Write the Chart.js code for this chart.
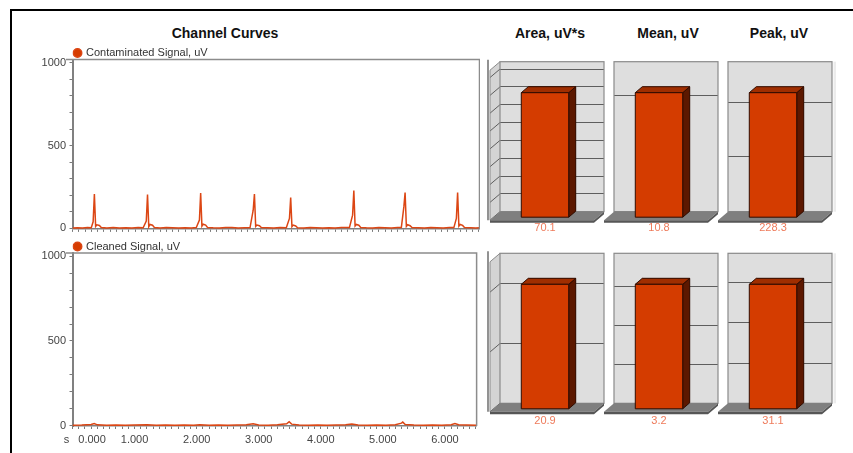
<!DOCTYPE html>
<html>
<head>
<meta charset="utf-8">
<script src="https://cdn.jsdelivr.net/npm/chart.js@4.4.1/dist/chart.umd.min.js"></script>
<style>
  body { margin: 0; background: #fff; width: 853px; height: 453px; overflow: hidden; position: relative; font-family: "Liberation Sans", Arial, sans-serif; }
  .frame { position: absolute; left: 10px; top: 9px; width: 900px; height: 500px; border-top: 2px solid #000; border-left: 2px solid #000; }
  canvas { position: absolute; }
  .title { position: absolute; top: 25px; line-height: 16px; font-size: 14px; font-weight: bold; color: #111; transform: translateX(-50%); white-space: nowrap; }
</style>
</head>
<body>
<div class="frame"></div>
<div class="title" style="left:225px">Channel Curves</div>
<div class="title" id="t0" style="left:550px"></div>
<div class="title" id="t1" style="left:668px"></div>
<div class="title" id="t2" style="left:779px"></div>

<canvas id="contam" width="470" height="195" style="left:10px; top:44px"></canvas>
<canvas id="clean" width="470" height="214" style="left:10px; top:238px"></canvas>

<canvas id="bar0" width="122" height="180" style="left:486px; top:56px"></canvas>
<canvas id="bar1" width="122" height="180" style="left:600px; top:56px"></canvas>
<canvas id="bar2" width="122" height="180" style="left:714px; top:56px"></canvas>
<canvas id="bar3" width="122" height="180" style="left:486px; top:248px"></canvas>
<canvas id="bar4" width="122" height="180" style="left:600px; top:248px"></canvas>
<canvas id="bar5" width="122" height="180" style="left:714px; top:248px"></canvas>

<script>
// time (s) and amplitude (uV)
const contamTime = [
  0.00, 0.08, 0.16, 0.24, 0.30, 0.33, 0.35, 0.37, 0.39, 0.43, 0.46, 0.55, 0.65, 0.75, 0.85, 0.95,
  1.05, 1.13, 1.18, 1.20, 1.22, 1.24, 1.28, 1.31, 1.40, 1.50, 1.60, 1.70, 1.80, 1.90, 1.98,
  2.03, 2.05, 2.07, 2.09, 2.13, 2.16, 2.25, 2.35, 2.45, 2.55, 2.65, 2.75, 2.84,
  2.89, 2.91, 2.93, 2.95, 2.99, 3.02, 3.12, 3.22, 3.32, 3.42,
  3.47, 3.49, 3.51, 3.53, 3.57, 3.60, 3.70, 3.80, 3.90, 4.00, 4.10, 4.20, 4.30, 4.43,
  4.48, 4.50, 4.52, 4.54, 4.58, 4.61, 4.70, 4.80, 4.90, 5.00, 5.10, 5.20, 5.26,
  5.30, 5.32, 5.34, 5.36, 5.40, 5.43, 5.53, 5.63, 5.73, 5.83, 5.93, 6.03, 6.10,
  6.14, 6.16, 6.18, 6.20, 6.24, 6.27, 6.37, 6.45, 6.51
];
const contamValues = [
  3, 4, 2, 5, 4, 40, 207, 12, 22, 18, 5, 3, 5, 2, 4, 3,
  5, 4, 45, 205, 10, 24, 19, 6, 3, 5, 4, 2, 4, 3, 5,
  50, 213, 14, 25, 20, 6, 4, 3, 5, 6, 3, 4, 5,
  110, 207, 12, 20, 16, 5, 4, 3, 5, 4,
  60, 187, 10, 20, 15, 4, 3, 5, 4, 2, 4, 3, 5, 6,
  80, 228, 15, 24, 19, 6, 4, 3, 5, 4, 3, 5, 6,
  130, 217, 12, 22, 16, 5, 4, 3, 5, 4, 3, 5, 5,
  60, 217, 14, 24, 18, 5, 4, 3, 4
];
const cleanTime = [
  0.00, 0.15, 0.30, 0.35, 0.40, 0.55, 0.70, 0.85, 1.00, 1.20, 1.35, 1.50, 1.65, 1.80, 1.95,
  2.05, 2.20, 2.35, 2.50, 2.65, 2.80, 2.91, 3.00, 3.15, 3.30, 3.45, 3.49, 3.53, 3.65, 3.80,
  3.95, 4.10, 4.25, 4.40, 4.50, 4.60, 4.75, 4.90, 5.05, 5.20, 5.30, 5.32, 5.36, 5.50, 5.65,
  5.80, 5.95, 6.10, 6.16, 6.22, 6.35, 6.51
];
const cleanValues = [
  2, 3, 6, 12, 4, 2, 3, 2, 3, 4, 2, 3, 2, 3, 2,
  4, 2, 3, 2, 3, 4, 10, 3, 2, 4, 10, 22, 8, 3, 2,
  3, 2, 3, 4, 9, 3, 2, 3, 2, 4, 14, 20, 6, 3, 2,
  3, 2, 5, 11, 4, 3, 2
];

const barTitles = ["Area, uV*s", "Mean, uV", "Peak, uV"];
const contamBars = [70.1, 10.8, 228.3];
const cleanBars = [20.9, 3.2, 31.1];
const contamSteps = [10, 10, 100];
const cleanSteps = [10, 1, 10];

const xTickValues = [0, 1, 2, 3, 4, 5, 6];
const xTickLabels = ["0.000", "1.000", "2.000", "3.000", "4.000", "5.000", "6.000"];
const yTickValues = [0, 100, 200, 300, 400, 500, 600, 700, 800, 900, 1000];
const yLabelValues = [0, 500, 1000];

const FONT = '"Liberation Sans", Arial, sans-serif';
Chart.defaults.font.family = FONT;

const LINE_COLOR = "#dc4614";
const DOT_COLOR = "#d63c00";
const WALL_DX = 10, WALL_DY = 8.5, SLAB = 2.5;
const BAR_DX = 7, BAR_DY = 6;

const plotFrame = {
  id: "plotFrame",
  afterDraw(chart) {
    const { ctx, chartArea: a } = chart;
    ctx.save();
    ctx.strokeStyle = "#8c8c8c";
    ctx.lineWidth = 1.5;
    ctx.beginPath();
    ctx.moveTo(a.left - 6.5, a.top);
    ctx.lineTo(a.right, a.top);
    ctx.lineTo(a.right, a.bottom);
    ctx.stroke();
    ctx.restore();
  }
};

function lineChart(id, label, times, values, showLabels, topPad) {
  return new Chart(document.getElementById(id), {
    type: "line",
    data: {
      datasets: [{
        label: label,
        data: times.map((t, i) => ({ x: t, y: values[i] })),
        borderColor: LINE_COLOR,
        backgroundColor: DOT_COLOR,
        borderWidth: 1.5,
        pointRadius: 0,
        tension: 0
      }]
    },
    options: {
      responsive: false,
      animation: false,
      layout: { padding: { top: topPad, right: 0.5, left: 0, bottom: 0 } },
      plugins: {
        legend: {
          position: "top",
          align: "start",
          fullSize: false,
          maxHeight: 14,
          labels: {
            usePointStyle: true,
            pointStyle: "circle",
            boxWidth: 6,
            boxHeight: 6,
            padding: 2,
            color: "#333",
            font: { size: 11 }
          }
        },
        tooltip: { enabled: false }
      },
      scales: {
        x: {
          type: "linear",
          min: 0,
          max: 6.51,
          afterBuildTicks(axis) {
            const ticks = [];
            for (let k = 0; k <= 65; k++) ticks.push({ value: k / 10 });
            axis.ticks = ticks;
          },
          afterFit(scale) { scale.height = showLabels ? 26 : 6; },
          grid: { drawOnChartArea: false, tickLength: 3, color: "#7a7a7a" },
          border: { color: "#808080", width: 1.5 },
          ticks: {
            display: showLabels,
            autoSkip: false,
            maxRotation: 0,
            minRotation: 0,
            padding: 4,
            color: "#444",
            font: { size: 11 },
            callback(value) {
              const i = xTickValues.findIndex(v => Math.abs(v - value) < 1e-6);
              if (i < 0) return "";
              return i === 0 ? "        s   " + xTickLabels[0] : xTickLabels[i];
            }
          }
        },
        y: {
          min: -3,
          max: 1020,
          afterBuildTicks(axis) { axis.ticks = yTickValues.map(v => ({ value: v })); },
          afterFit(scale) { scale.width = 62.5; },
          grid: { drawOnChartArea: false, tickLength: 3, color: "#7a7a7a" },
          border: { color: "#808080", width: 2 },
          ticks: {
            autoSkip: false,
            padding: 3.5,
            color: "#444",
            font: { size: 11 },
            callback(value) { return yLabelValues.includes(value) ? String(value) : ""; }
          }
        }
      }
    },
    plugins: [plotFrame]
  });
}

const box3d = {
  id: "box3d",
  beforeDraw(chart, args, opts) {
    const { ctx, chartArea: a } = chart;
    ctx.save();
    ctx.fillStyle = "#dedede";
    ctx.fillRect(a.left, a.top, a.right - a.left, a.bottom - a.top);
    if (opts.sideWall) {
      ctx.fillStyle = "#d4d4d4";
      ctx.beginPath();
      ctx.moveTo(a.left, a.top);
      ctx.lineTo(a.left - WALL_DX, a.top + WALL_DY);
      ctx.lineTo(a.left - WALL_DX, a.bottom + WALL_DY);
      ctx.lineTo(a.left, a.bottom);
      ctx.closePath();
      ctx.fill();
    }
    ctx.restore();
  },
  beforeDatasetsDraw(chart, args, opts) {
    const { ctx, chartArea: a } = chart;
    const yScale = chart.scales.y;
    ctx.save();
    ctx.lineWidth = 1;
    if (opts.sideWall) {
      ctx.strokeStyle = "#5e5e5e";
      yScale.ticks.forEach(t => {
        const py = yScale.getPixelForValue(t.value);
        ctx.beginPath();
        ctx.moveTo(a.left, py);
        ctx.lineTo(a.left - WALL_DX, py + WALL_DY);
        ctx.stroke();
      });
      ctx.strokeStyle = "#8a8a8a";
      ctx.beginPath();
      ctx.moveTo(a.left, a.top);
      ctx.lineTo(a.left - WALL_DX, a.top + WALL_DY);
      ctx.lineTo(a.left - WALL_DX, a.bottom + WALL_DY);
      ctx.stroke();
      // vertical axis line of the first column
      ctx.strokeStyle = "#6e6e6e";
      ctx.lineWidth = 1.5;
      ctx.beginPath();
      ctx.moveTo(a.left - 12, a.top - 2);
      ctx.lineTo(a.left - 12, a.bottom + WALL_DY);
      ctx.stroke();
      ctx.lineWidth = 1;
    }
    if (opts.shade) {
      ctx.strokeStyle = "#ececec";
      ctx.lineWidth = 3;
      ctx.beginPath();
      ctx.moveTo(a.right + 3, a.top);
      ctx.lineTo(a.right + 3, a.bottom);
      ctx.stroke();
      ctx.lineWidth = 1;
    }
    // wall outline
    ctx.strokeStyle = "#8a8a8a";
    ctx.lineWidth = 1.2;
    ctx.strokeRect(a.left, a.top, a.right - a.left, a.bottom - a.top);
    // floor
    ctx.fillStyle = "#7f7f7f";
    ctx.beginPath();
    ctx.moveTo(a.left, a.bottom);
    ctx.lineTo(a.right, a.bottom);
    ctx.lineTo(a.right - WALL_DX, a.bottom + WALL_DY);
    ctx.lineTo(a.left - WALL_DX, a.bottom + WALL_DY);
    ctx.closePath();
    ctx.fill();
    ctx.fillStyle = "#565656";
    ctx.beginPath();
    ctx.moveTo(a.left - WALL_DX, a.bottom + WALL_DY);
    ctx.lineTo(a.right - WALL_DX, a.bottom + WALL_DY);
    ctx.lineTo(a.right, a.bottom);
    ctx.lineTo(a.right, a.bottom + SLAB);
    ctx.lineTo(a.right - WALL_DX, a.bottom + WALL_DY + SLAB);
    ctx.lineTo(a.left - WALL_DX, a.bottom + WALL_DY + SLAB);
    ctx.closePath();
    ctx.fill();
    ctx.restore();
  },
  afterDatasetsDraw(chart, args, opts) {
    const { ctx, chartArea: a } = chart;
    const el = chart.getDatasetMeta(0).data[0];
    const { x, y, base, width } = el.getProps(["x", "y", "base", "width"], true);
    const l = x - width / 2, r = x + width / 2;
    const fl = l - BAR_DX, fr = r - BAR_DX, ft = y + BAR_DY, fb = base + BAR_DY;
    ctx.save();
    ctx.strokeStyle = "#2e0c00";
    ctx.lineWidth = 1;
    ctx.lineJoin = "round";
    // side face
    ctx.fillStyle = "#5c1800";
    ctx.beginPath();
    ctx.moveTo(r, y); ctx.lineTo(r, base); ctx.lineTo(fr, fb); ctx.lineTo(fr, ft);
    ctx.closePath(); ctx.fill(); ctx.stroke();
    // top face
    ctx.fillStyle = "#a02e00";
    ctx.beginPath();
    ctx.moveTo(l, y); ctx.lineTo(r, y); ctx.lineTo(fr, ft); ctx.lineTo(fl, ft);
    ctx.closePath(); ctx.fill(); ctx.stroke();
    // front face
    ctx.fillStyle = "#d43c00";
    ctx.fillRect(fl, ft, fr - fl, fb - ft);
    ctx.strokeRect(fl, ft, fr - fl, fb - ft);
    // value under the floor
    const value = chart.data.datasets[0].data[0];
    ctx.fillStyle = "#ee7a5a";
    ctx.font = "11px " + FONT;
    ctx.textAlign = "center";
    ctx.textBaseline = "middle";
    ctx.fillText(value.toFixed(1), (fl + fr) / 2, a.bottom + opts.labelGap);
    ctx.restore();
  }
};

function barPanel(id, value, step, col, pad, labelGap) {
  return new Chart(document.getElementById(id), {
    type: "bar",
    data: {
      labels: [""],
      datasets: [{
        data: [value],
        backgroundColor: "#d43c00",
        borderWidth: 0,
        barPercentage: 0.456,
        categoryPercentage: 1
      }]
    },
    options: {
      responsive: false,
      animation: false,
      layout: { padding: pad },
      plugins: {
        legend: { display: false },
        tooltip: { enabled: false },
        box3d: { sideWall: col === 0, shade: col === 2, labelGap: labelGap }
      },
      scales: {
        x: { display: false },
        y: {
          min: 0,
          max: value * 1.2,
          afterBuildTicks(axis) {
            const ticks = [];
            for (let v = 0; v <= axis.max; v += step) ticks.push({ value: v });
            axis.ticks = ticks;
          },
          afterFit(scale) { scale.width = 0; },
          ticks: { display: false },
          grid: { color: "#5e5e5e", lineWidth: 1, drawTicks: false },
          border: { display: false }
        }
      }
    },
    plugins: [box3d]
  });
}

barTitles.forEach((t, i) => { document.getElementById("t" + i).textContent = t; });

lineChart("contam", "Contaminated Signal, uV", contamTime, contamValues, false, 1.5);
lineChart("clean", "Cleaned Signal, uV", cleanTime, cleanValues, true, 1);

contamBars.forEach((v, i) => {
  barPanel("bar" + i, v, contamSteps[i], i, { left: 14, right: 4, top: 5.7, bottom: 24.3 }, 16.5);
});
cleanBars.forEach((v, i) => {
  barPanel("bar" + (i + 3), v, cleanSteps[i], i, { left: 14, right: 4, top: 5.3, bottom: 24.7 }, 18);
});
</script>
</body>
</html>
